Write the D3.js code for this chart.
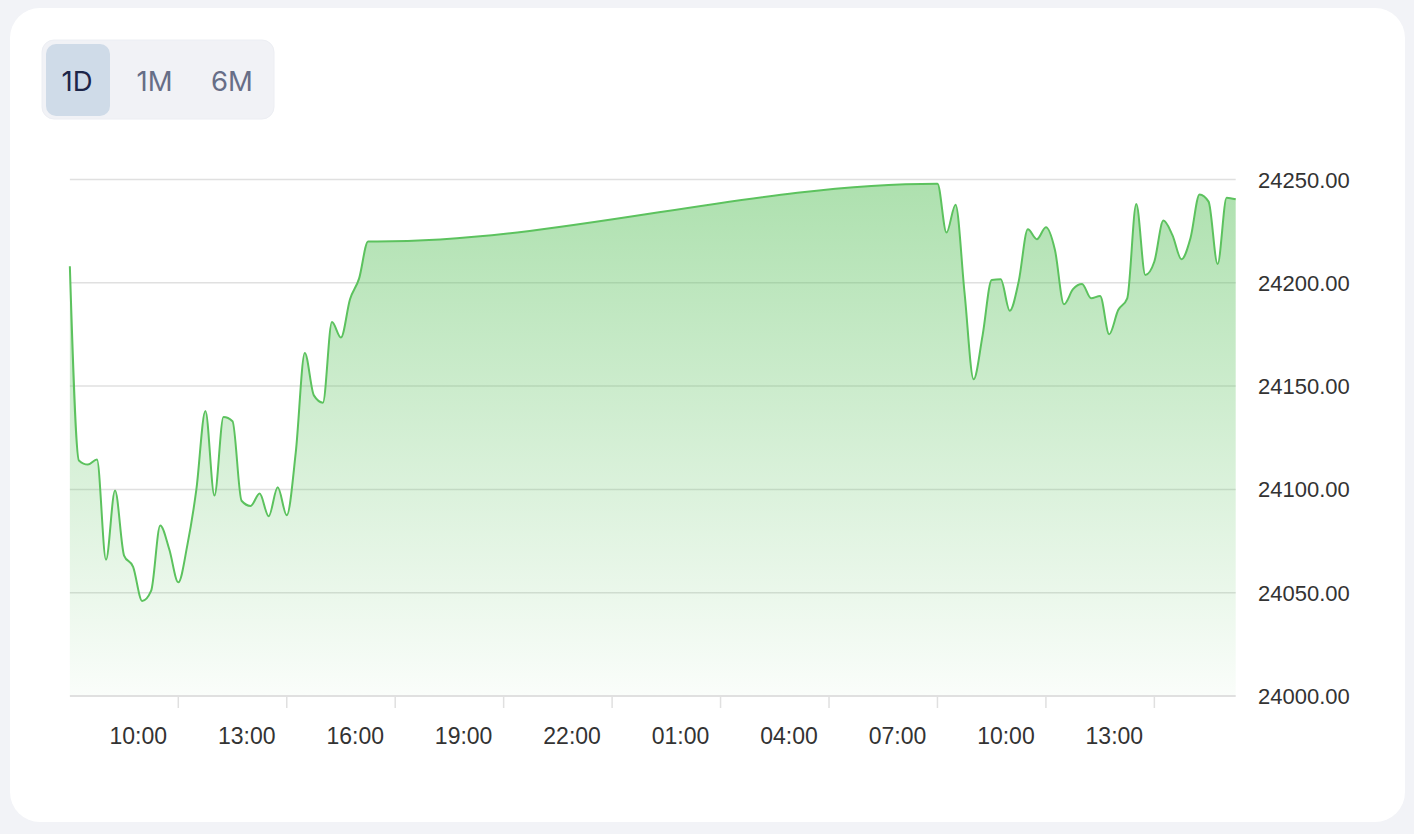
<!DOCTYPE html>
<html>
<head>
<meta charset="utf-8">
<script src="https://cdn.jsdelivr.net/npm/d3@7"></script>
<style>
  html, body { margin: 0; padding: 0; background: #f2f3f7; }
  svg { display: block; }
</style>
</head>
<body>
<svg id="chart" width="1414" height="834"></svg>
<script>
// ---- data ----
const day1Times = ["07:00","07:15","07:30","07:45","08:00","08:15","08:30","08:45","09:00","09:15","09:30","09:45","10:00","10:15","10:30","10:45","11:00","11:15","11:30","11:45","12:00","12:15","12:30","12:45","13:00","13:15","13:30","13:45","14:00","14:15","14:30","14:45","15:00","15:15","15:30"];
const day1Values = [24208,24114,24112,24114.5,24066,24099.5,24068,24062.5,24046,24051,24082.5,24071,24055,24073,24100,24138,24097,24135,24133,24094.5,24092,24098,24087,24101,24087.5,24118,24166,24145.5,24142,24181,24173.5,24192,24202,24220,24220];
const day2Times = ["07:00","07:15","07:30","07:45","08:00","08:15","08:30","08:45","09:00","09:15","09:30","09:45","10:00","10:15","10:30","10:45","11:00","11:15","11:30","11:45","12:00","12:15","12:30","12:45","13:00","13:15","13:30","13:45","14:00","14:15","14:30","14:45","15:00","15:15"];
const day2Values = [24248,24224.3,24237.8,24195,24153.3,24174.7,24201.4,24201.7,24186.5,24200.9,24225.9,24221.1,24226.9,24215.9,24189.6,24196.9,24199.4,24192.5,24193.6,24175.1,24186.8,24192.5,24238.1,24203.8,24210.3,24230.1,24223.1,24211.4,24221.7,24242.8,24239.3,24209.1,24241.2,24240.4];
const day1Date = "2025-06-12";
const day2Date = "2025-06-13";
const xTickTimes = ["2025-06-12 10:00","2025-06-12 13:00","2025-06-12 16:00","2025-06-12 19:00","2025-06-12 22:00","2025-06-13 01:00","2025-06-13 04:00","2025-06-13 07:00","2025-06-13 10:00","2025-06-13 13:00"];
const yTicks = [24000, 24050, 24100, 24150, 24200, 24250];
const ranges = ["1D", "1M", "6M"];
const activeRange = "1D";
const domainStart = "2025-06-12 07:00";
const domainEnd = "2025-06-13 15:15";

// ---- build ----
const parse = d3.timeParse("%Y-%m-%d %H:%M");
const data = [
  ...day1Times.map((t, i) => ({ t: parse(day1Date + " " + t), v: day1Values[i] })),
  ...day2Times.map((t, i) => ({ t: parse(day2Date + " " + t), v: day2Values[i] }))
];

const svg = d3.select("#chart");

// card
svg.append("rect").attr("x", 10).attr("y", 8).attr("width", 1395).attr("height", 814)
  .attr("rx", 30).attr("fill", "#ffffff");

// range selector
const grp = svg.append("g");
grp.append("rect").attr("x", 42).attr("y", 40).attr("width", 232).attr("height", 79)
  .attr("rx", 12).attr("fill", "#f1f2f6").attr("stroke", "#eceef3").attr("stroke-width", 1);
const btnX = d3.scalePoint().domain(ranges).range([77, 232]);
grp.selectAll("rect.btn").data(ranges.filter(r => r === activeRange)).join("rect")
  .attr("class", "btn")
  .attr("x", d => btnX(d) - 31).attr("y", 44).attr("width", 64).attr("height", 72)
  .attr("rx", 10).attr("fill", "#cfdbe8");
grp.selectAll("text").data(ranges).join("text")
  .attr("x", d => btnX(d)).attr("y", 90.5)
  .attr("text-anchor", "middle")
  .attr("font-family", "Inter, 'Noto Sans', sans-serif")
  .attr("font-size", 27.5)
  .attr("fill", d => d === activeRange ? "#1c2548" : "#676e87")
  .text(d => d);

// scales
const x = d3.scaleTime().domain([parse(domainStart), parse(domainEnd)]).range([69.85, 1235.7]);
const y = d3.scaleLinear().domain([24000, 24250]).range([696, 179.5]);

const fontFam = "'Liberation Sans', Arial, Helvetica, sans-serif";

// grid lines
svg.append("g").selectAll("line").data(yTicks.filter(d => d !== 24000)).join("line")
  .attr("x1", x.range()[0]).attr("x2", x.range()[1])
  .attr("y1", d => y(d)).attr("y2", d => y(d))
  .attr("stroke", "#e0e0e0").attr("stroke-width", 1.5);

// gradient
const maxV = d3.max(data, d => d.v);
const defs = svg.append("defs");
const grad = defs.append("linearGradient").attr("id", "areaGrad")
  .attr("gradientUnits", "userSpaceOnUse")
  .attr("x1", 0).attr("x2", 0).attr("y1", y(maxV)).attr("y2", y(24000));
grad.append("stop").attr("offset", 0).attr("stop-color", "#5cc25e").attr("stop-opacity", 0.5);
grad.append("stop").attr("offset", 1).attr("stop-color", "#5cc25e").attr("stop-opacity", 0.03);

const area = d3.area().x(d => x(d.t)).y0(y(24000)).y1(d => y(d.v)).curve(d3.curveMonotoneX);
const line = d3.line().x(d => x(d.t)).y(d => y(d.v)).curve(d3.curveMonotoneX);

svg.append("path").datum(data).attr("d", area).attr("fill", "url(#areaGrad)");

// bottom axis
const xAxisG = svg.append("g");
xAxisG.append("line").attr("x1", x.range()[0]).attr("x2", x.range()[1])
  .attr("y1", y(24000)).attr("y2", y(24000))
  .attr("stroke", "#e0e0e0").attr("stroke-width", 2);
const xTicks = xTickTimes.map(parse);
xAxisG.selectAll("line.tick").data(xTicks).join("line").attr("class", "tick")
  .attr("x1", d => x(d)).attr("x2", d => x(d))
  .attr("y1", y(24000)).attr("y2", y(24000) + 12)
  .attr("stroke", "#e0e0e0").attr("stroke-width", 1.5);
const fmt = d3.timeFormat("%H:%M");
xAxisG.selectAll("text").data(xTicks).join("text")
  .attr("x", d => x(d) - 40).attr("y", 744)
  .attr("text-anchor", "middle")
  .attr("font-family", fontFam).attr("font-size", 23).attr("fill", "#333333")
  .text(d => fmt(d));

// line
svg.append("path").datum(data).attr("d", line)
  .attr("fill", "none").attr("stroke", "#5cc25e").attr("stroke-width", 2)
  .attr("stroke-linejoin", "round");

// y axis labels
svg.append("g").selectAll("text").data(yTicks).join("text")
  .attr("x", 1258).attr("y", d => y(d) + 8)
  .attr("font-family", fontFam).attr("font-size", 22).attr("fill", "#333333")
  .text(d => d3.format(".2f")(d));
</script>
</body>
</html>
